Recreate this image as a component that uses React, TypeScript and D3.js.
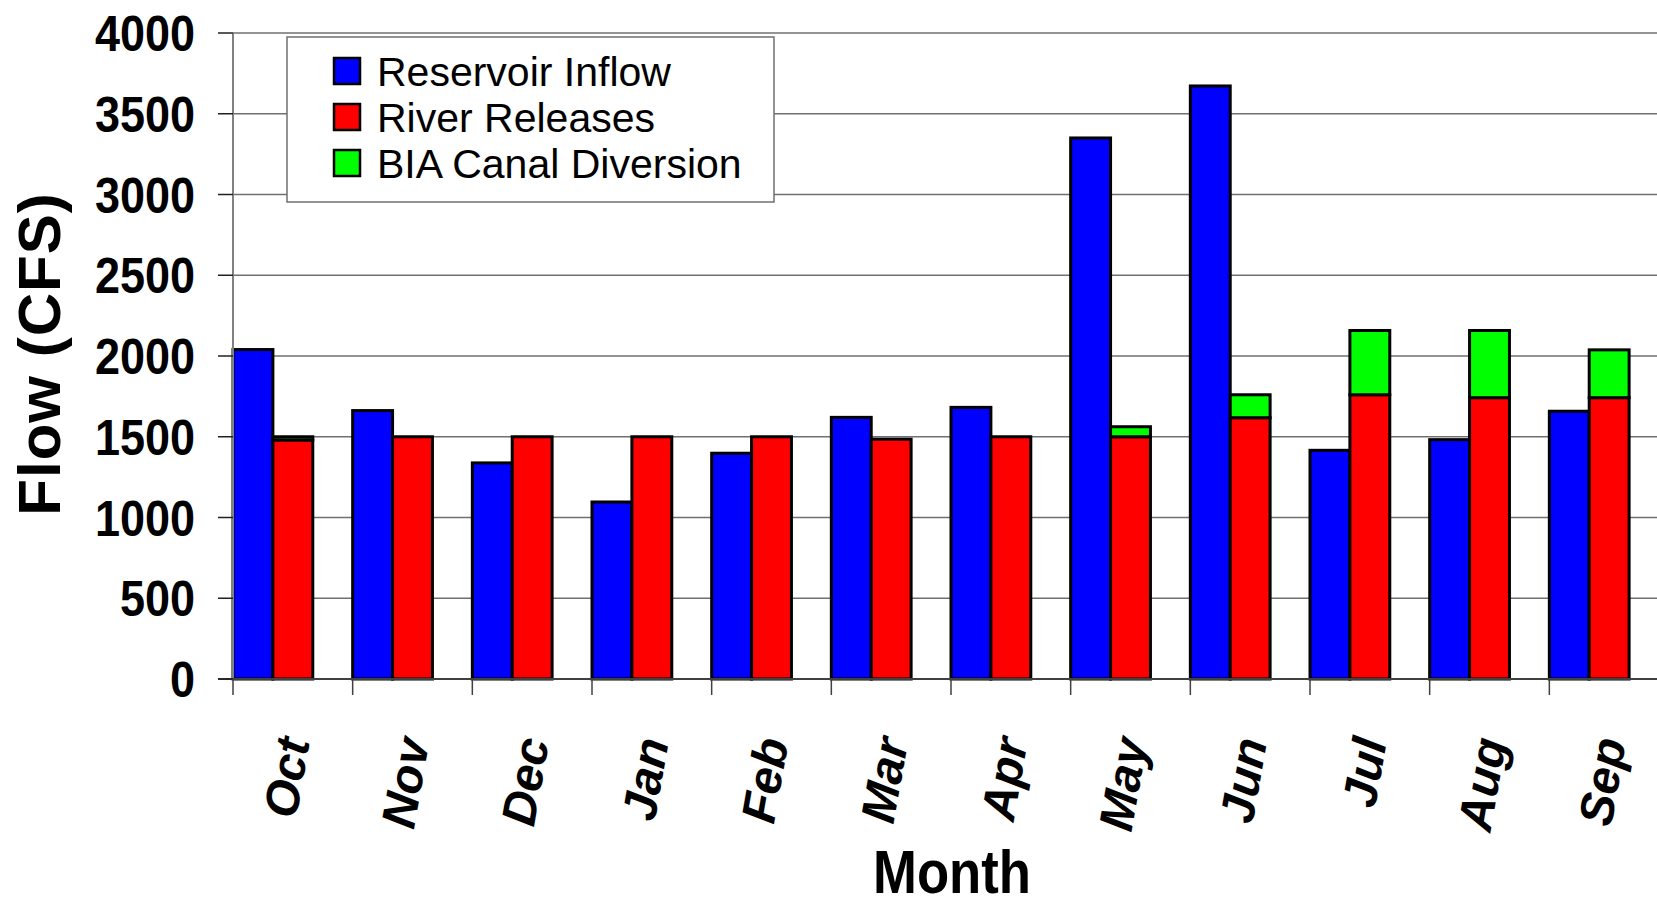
import { useEffect, useRef } from 'react';
import * as d3 from 'd3';

const months = ['Oct', 'Nov', 'Dec', 'Jan', 'Feb', 'Mar', 'Apr', 'May', 'Jun', 'Jul', 'Aug', 'Sep'];
const inflow = [2040, 1662, 1338, 1096, 1398, 1620, 1682, 3350, 3672, 1416, 1482, 1658];
const releases = [1480, 1500, 1500, 1500, 1500, 1485, 1500, 1500, 1618, 1760, 1742, 1742];
const diversion = [20, 0, 0, 0, 0, 0, 0, 62, 142, 398, 416, 296];
const yTicks = [0, 500, 1000, 1500, 2000, 2500, 3000, 3500, 4000];
const seriesNames = ['Reservoir Inflow', 'River Releases', 'BIA Canal Diversion'];
const seriesColors = ['#0000ff', '#ff0000', '#00ff00'];

const W = 1657, H = 902;
const FONT = '"Liberation Sans", Arial, sans-serif';

export default function App() {
  const svgRef = useRef<SVGSVGElement>(null);

  useEffect(() => {
    const svg = d3.select(svgRef.current);
    svg.selectAll('*').remove();

    const x = d3.scaleBand().domain(months).range([233, 1669]).paddingInner(0).paddingOuter(0);
    const y = d3.scaleLinear().domain([0, 4000]).range([679, 33]);
    const bw = x.bandwidth() / 3;

    // grid
    svg.append('g').selectAll('line')
      .data(yTicks.filter(t => t > 0))
      .join('line')
      .attr('x1', 233).attr('x2', W)
      .attr('y1', d => y(d)).attr('y2', d => y(d))
      .attr('stroke', '#707070').attr('stroke-width', 1.5);

    // bars: inflow, then releases with the diversion stacked on top
    const g = svg.append('g').attr('stroke', '#000').attr('stroke-width', 3);
    months.forEach((m, i) => {
      const x0 = x(m)!;
      g.append('rect')
        .attr('x', x0).attr('y', y(inflow[i]))
        .attr('width', bw).attr('height', y(0) - y(inflow[i]))
        .attr('fill', seriesColors[0]);
      g.append('rect')
        .attr('x', x0 + bw).attr('y', y(releases[i]))
        .attr('width', bw).attr('height', y(0) - y(releases[i]))
        .attr('fill', seriesColors[1]);
      if (diversion[i] > 0) {
        const top = releases[i] + diversion[i];
        g.append('rect')
          .attr('x', x0 + bw).attr('y', y(top))
          .attr('width', bw).attr('height', y(releases[i]) - y(top))
          .attr('fill', seriesColors[2]);
      }
    });

    // axes
    svg.append('line').attr('x1', 233).attr('x2', 233).attr('y1', 33).attr('y2', 679)
      .attr('stroke', '#808080').attr('stroke-width', 2);
    svg.append('line').attr('x1', 218).attr('x2', W).attr('y1', 679).attr('y2', 679)
      .attr('stroke', '#404040').attr('stroke-width', 2);

    svg.append('g').selectAll('line')
      .data(yTicks)
      .join('line')
      .attr('x1', 218).attr('x2', 233)
      .attr('y1', d => y(d)).attr('y2', d => y(d))
      .attr('stroke', '#202020').attr('stroke-width', 1.5);

    svg.append('g').selectAll('line')
      .data(d3.range(months.length + 1))
      .join('line')
      .attr('x1', k => 233 + k * x.bandwidth()).attr('x2', k => 233 + k * x.bandwidth())
      .attr('y1', 679).attr('y2', 695)
      .attr('stroke', '#404040').attr('stroke-width', 1.5);

    // y tick labels
    svg.append('g').selectAll('g')
      .data(yTicks)
      .join('g')
      .attr('transform', d => `translate(195,${y(d)}) scale(0.9,1)`)
      .append('text')
      .attr('text-anchor', 'end')
      .attr('dy', '0.36em')
      .attr('font-family', FONT).attr('font-weight', 'bold').attr('font-size', 50)
      .text(d => d);

    // month labels
    svg.append('g').selectAll('text')
      .data(months)
      .join('text')
      .attr('transform', m => `translate(${x(m)! + x.bandwidth() / 2 + 17},741) rotate(-80)`)
      .attr('text-anchor', 'end')
      .attr('font-family', FONT).attr('font-weight', 'bold').attr('font-style', 'italic')
      .attr('font-size', 48)
      .text(m => m);

    // axis titles
    svg.append('text')
      .attr('transform', 'translate(60,354) rotate(-90)')
      .attr('text-anchor', 'middle')
      .attr('font-family', FONT).attr('font-weight', 'bold').attr('font-size', 60)
      .attr('letter-spacing', 1)
      .text('Flow (CFS)');

    svg.append('g').attr('transform', 'translate(952,893) scale(0.85,1)')
      .append('text')
      .attr('text-anchor', 'middle')
      .attr('font-family', FONT).attr('font-weight', 'bold').attr('font-size', 62)
      .text('Month');

    // legend
    const lg = svg.append('g');
    lg.append('rect').attr('x', 287).attr('y', 37).attr('width', 487).attr('height', 165)
      .attr('fill', '#fff').attr('stroke', '#707070').attr('stroke-width', 1.5);
    seriesNames.forEach((name, i) => {
      lg.append('rect')
        .attr('x', 334).attr('y', 58 + i * 46).attr('width', 26).attr('height', 26)
        .attr('fill', seriesColors[i]).attr('stroke', '#000').attr('stroke-width', 2.5);
      lg.append('text')
        .attr('x', 377).attr('y', 86 + i * 46)
        .attr('font-family', FONT).attr('font-size', 41)
        .text(name);
    });
  }, []);

  return (
    <svg
      ref={svgRef}
      width={W}
      height={H}
      style={{ position: 'fixed', left: 0, top: 0, background: '#fff' }}
    />
  );
}
